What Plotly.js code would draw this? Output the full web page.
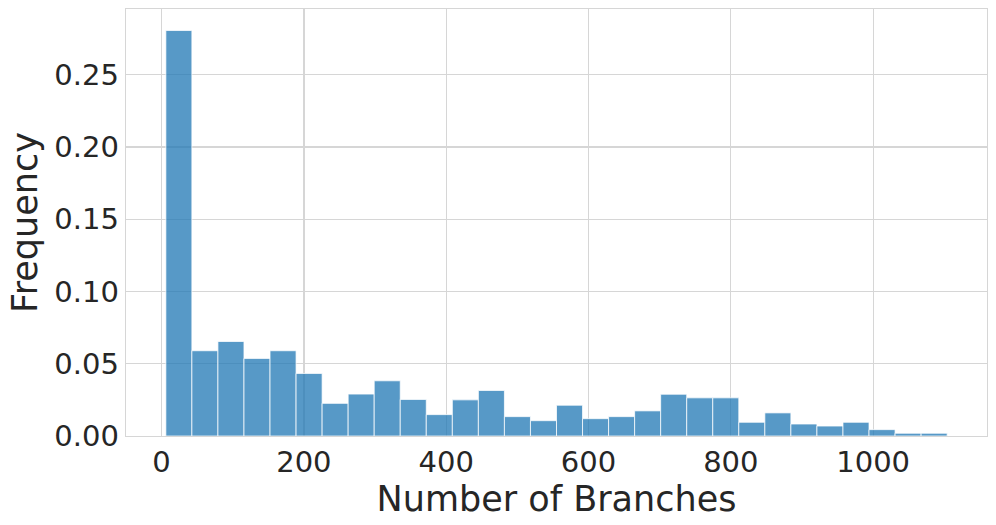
<!DOCTYPE html>
<html>
<head>
<meta charset="utf-8">
<script src="https://cdn.plot.ly/plotly-3.0.1.min.js"></script>
<style>
  html, body { margin: 0; padding: 0; background: #ffffff; }
  #chart { width: 996px; height: 525px; }
</style>
</head>
<body>
<div id="chart"></div>
<script>
// Histogram bin edges (Number of Branches), 30 bins
const binEdges = [6.0, 42.6, 79.2, 115.8, 152.4, 189.0, 225.6, 262.2, 298.8, 335.4,
  372.0, 408.6, 445.2, 481.8, 518.4, 555.0, 591.6, 628.2, 664.8, 701.4,
  738.0, 774.6, 811.2, 847.8, 884.4, 921.0, 957.6, 994.2, 1030.8, 1067.4, 1104.0];
// Frequency per bin
const frequency = [0.2806, 0.0590, 0.0654, 0.0537, 0.0590, 0.0433, 0.0226, 0.0290, 0.0382, 0.0253,
  0.0148, 0.0250, 0.0315, 0.0134, 0.0106, 0.0213, 0.0120, 0.0134, 0.0174, 0.0289,
  0.0264, 0.0264, 0.0095, 0.0160, 0.0083, 0.0069, 0.0095, 0.0044, 0.0019, 0.0019];
const xTicks = [0, 200, 400, 600, 800, 1000];
const yTicks = [0.00, 0.05, 0.10, 0.15, 0.20, 0.25];

const centers = frequency.map((_, i) => (binEdges[i] + binEdges[i + 1]) / 2);
const widths = frequency.map((_, i) => binEdges[i + 1] - binEdges[i]);

const trace = {
  type: 'bar',
  x: centers,
  y: frequency,
  width: widths,
  marker: {
    color: 'rgba(31,119,180,0.75)',
    line: { color: 'rgba(255,255,255,0.75)', width: 1 }
  },
  hoverinfo: 'x+y'
};

const fontFam = 'DejaVu Sans, sans-serif';
const layout = {
  width: 996,
  height: 525,
  margin: { l: 126, r: 9, t: 9, b: 89 },
  paper_bgcolor: '#ffffff',
  plot_bgcolor: '#ffffff',
  showlegend: false,
  bargap: 0,
  font: { family: fontFam, color: '#262626' },
  xaxis: {
    range: [-50, 1160],
    tickvals: xTicks,
    ticktext: xTicks.map(String),
    tickfont: { size: 29, family: fontFam, color: '#262626' },
    showgrid: true,
    gridcolor: '#d6d6d6',
    gridwidth: 1.25,
    zeroline: false,
    showline: true,
    linecolor: '#d6d6d6',
    linewidth: 1.25,
    mirror: true,
    ticks: '',
    title: { text: 'Number of Branches', font: { size: 35, family: fontFam, color: '#262626' }, standoff: 8 },
    layer: 'below traces'
  },
  yaxis: {
    range: [0, 0.2955],
    tickvals: yTicks,
    ticktext: yTicks.map(v => v.toFixed(2)),
    tickfont: { size: 29, family: fontFam, color: '#262626' },
    showgrid: true,
    gridcolor: '#d6d6d6',
    gridwidth: 1.25,
    zeroline: false,
    showline: true,
    linecolor: '#d6d6d6',
    linewidth: 1.25,
    mirror: true,
    ticks: '',
    title: { text: 'Frequency', font: { size: 35, family: fontFam, color: '#262626' }, standoff: 6 },
    layer: 'below traces'
  }
};

Plotly.newPlot('chart', [trace], layout, { displayModeBar: false, staticPlot: true });
</script>
</body>
</html>
